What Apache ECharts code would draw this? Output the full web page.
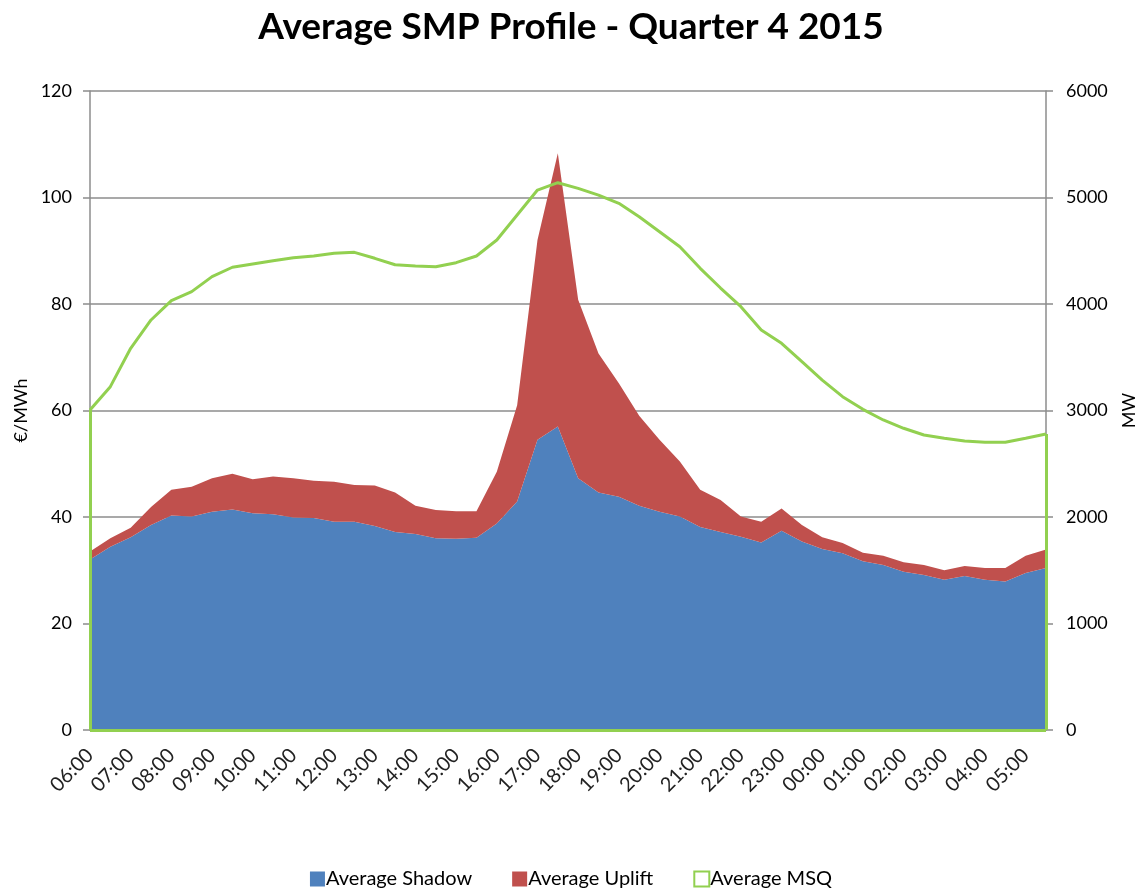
<!DOCTYPE html>
<html>
<head>
<meta charset="utf-8">
<script src="https://cdn.jsdelivr.net/npm/echarts@6/dist/echarts.min.js"></script>
<style>
  html, body { margin: 0; padding: 0; background: #fff; }
  #chart { width: 1142px; height: 892px; }
</style>
</head>
<body>
<div id="chart"></div>
<script>
// half-hourly slots, trading day runs 06:00 -> 05:30
const times = [
  '06:00', '06:30', '07:00', '07:30', '08:00', '08:30', '09:00', '09:30',
  '10:00', '10:30', '11:00', '11:30', '12:00', '12:30', '13:00', '13:30',
  '14:00', '14:30', '15:00', '15:30', '16:00', '16:30', '17:00', '17:30',
  '18:00', '18:30', '19:00', '19:30', '20:00', '20:30', '21:00', '21:30',
  '22:00', '22:30', '23:00', '23:30', '00:00', '00:30', '01:00', '01:30',
  '02:00', '02:30', '03:00', '03:30', '04:00', '04:30', '05:00', '05:30',
]

// €/MWh
const shadow = [
  32.0, 34.4, 36.2, 38.5, 40.3, 40.1, 41.0, 41.4, 40.7, 40.5, 39.9, 39.8,
  39.1, 39.1, 38.3, 37.2, 36.8, 36.0, 35.9, 36.1, 38.8, 42.9, 54.5, 57.0,
  47.3, 44.6, 43.8, 42.1, 41.0, 40.1, 38.1, 37.2, 36.3, 35.2, 37.4, 35.4,
  34.0, 33.2, 31.7, 31.0, 29.7, 29.1, 28.2, 28.9, 28.2, 27.9, 29.5, 30.4,
]
const uplift = [
  1.5, 1.6, 1.8, 3.4, 4.8, 5.6, 6.3, 6.7, 6.4, 7.1, 7.4, 7.0,
  7.5, 6.9, 7.6, 7.4, 5.3, 5.3, 5.2, 5.0, 9.7, 18.1, 37.5, 51.3,
  33.5, 26.1, 21.3, 16.9, 13.5, 10.3, 7.0, 6.0, 3.8, 3.9, 4.2, 3.1,
  2.2, 1.9, 1.6, 1.7, 1.8, 1.9, 1.8, 1.9, 2.2, 2.5, 3.2, 3.5,
]
// MW
const msq = [
  3005, 3224, 3584, 3850, 4031, 4116, 4257, 4345, 4376, 4407, 4435, 4451,
  4476, 4485, 4429, 4369, 4357, 4350, 4388, 4451, 4601, 4836, 5070, 5139,
  5086, 5023, 4945, 4820, 4679, 4538, 4335, 4150, 3975, 3756, 3631, 3458,
  3286, 3130, 3011, 2911, 2833, 2770, 2739, 2714, 2701, 2701, 2739, 2779,
]

const BLUE = '#4f81bd'
const RED = '#c0504d'
const GREEN = '#92d050'
const GRID = '#8c8c8c'
const FONT = 'Lato'

const first = times[0]
const last = times[times.length - 1]

const chart = echarts.init(document.getElementById('chart'))

chart.setOption({
  animation: false,
  textStyle: { fontFamily: FONT },
  title: {
    text: 'Average SMP Profile - Quarter 4 2015',
    left: 'center',
    top: 4,
    textStyle: { fontFamily: FONT, fontSize: 37, fontWeight: 'bold', color: '#000' },
  },
  grid: { left: 90, right: 96, top: 91, bottom: 162, outerBoundsMode: 'none' },
  legend: {
    bottom: -2,
    left: 'center',
    itemWidth: 15,
    itemHeight: 15,
    itemGap: 40,
    textStyle: { fontFamily: FONT, fontSize: 20, color: '#000', padding: [0, 0, 0, -4] },
    data: [
      { name: 'Average Shadow', icon: 'rect' },
      { name: 'Average Uplift', icon: 'rect' },
      { name: 'Average MSQ', icon: 'rect', itemStyle: { color: '#fff', borderColor: GREEN, borderWidth: 2 } },
    ],
  },
  xAxis: {
    type: 'category',
    data: times,
    boundaryGap: false,
    axisLine: { lineStyle: { color: GRID, width: 1.5 } },
    axisTick: { show: false },
    axisLabel: {
      interval: 1,
      rotate: 45,
      margin: 22,
      fontSize: 20,
      color: '#222',
    },
  },
  yAxis: [
    {
      type: 'value',
      min: 0,
      max: 120,
      interval: 20,
      name: '€/MWh',
      nameLocation: 'middle',
      nameRotate: 90,
      nameGap: 58,
      nameTextStyle: { fontFamily: FONT, fontSize: 18, color: '#000' },
      axisLine: { show: true, lineStyle: { color: GRID, width: 1.5 } },
      axisTick: { show: true, length: 7, lineStyle: { color: GRID, width: 1.5 } },
      axisLabel: { fontSize: 18, color: '#000', margin: 18 },
      splitLine: { lineStyle: { color: GRID, width: 1.5 } },
    },
    {
      type: 'value',
      min: 0,
      max: 6000,
      interval: 1000,
      name: 'MW',
      nameLocation: 'middle',
      nameRotate: 90,
      nameGap: 74,
      nameTextStyle: { fontFamily: FONT, fontSize: 18, color: '#000' },
      axisLine: { show: true, lineStyle: { color: GRID, width: 1.5 } },
      axisTick: { show: true, length: 7, lineStyle: { color: GRID, width: 1.5 } },
      axisLabel: { fontSize: 18, color: '#000', margin: 20, formatter: (v) => String(v) },
      splitLine: { show: false },
    },
  ],
  series: [
    {
      name: 'Average Shadow',
      type: 'line',
      stack: 'smp',
      data: shadow,
      showSymbol: false,
      color: BLUE,
      lineStyle: { width: 0 },
      areaStyle: { color: BLUE, opacity: 1 },
    },
    {
      name: 'Average Uplift',
      type: 'line',
      stack: 'smp',
      data: uplift,
      showSymbol: false,
      color: RED,
      lineStyle: { width: 0 },
      areaStyle: { color: RED, opacity: 1 },
    },
    {
      name: 'Average MSQ',
      type: 'line',
      yAxisIndex: 1,
      data: msq,
      showSymbol: false,
      color: GREEN,
      lineStyle: { color: GREEN, width: 3 },
      // Excel draws this as an unfilled area, so its outline closes down to the axis
      markLine: {
        silent: true,
        symbol: 'none',
        label: { show: false },
        lineStyle: { color: GREEN, width: 3, type: 'solid' },
        data: [
          [{ xAxis: first, yAxis: 0 }, { xAxis: first, yAxis: msq[0] }],
          [{ xAxis: last, yAxis: 0 }, { xAxis: last, yAxis: msq[msq.length - 1] }],
          [{ xAxis: first, yAxis: 0 }, { xAxis: last, yAxis: 0 }],
        ],
      },
    },
  ],
})
</script>
</body>
</html>
